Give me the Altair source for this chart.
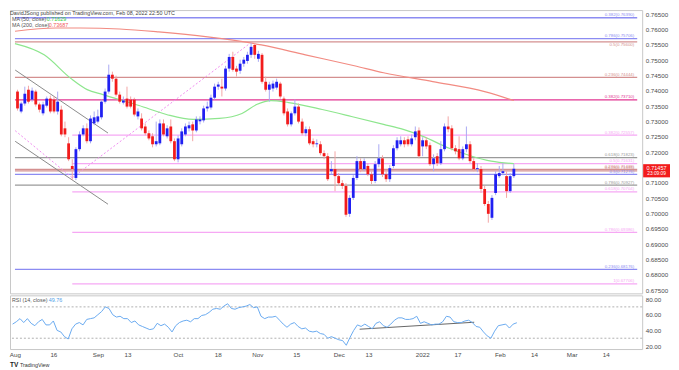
import json
import altair as alt
import pandas as pd

# ---------------- data ----------------
OPEN = [.7398,.7333,.7359,.7404,.7372,.7398,.7356,.7327,.7352,.7375,
        .7372,.7333,.7339,.7278,.7229,.7155,.7116,.7210,.7258,.7278,
        .7236,.7294,.7300,.7314,.7365,.7398,.7453,.7440,.7388,.7362,
        .7375,.7372,.7372,.7317,.7310,.7284,.7262,.7252,.7226,.7229,
        .7294,.7252,.7284,.7236,.7177,.7226,.7258,.7278,.7291,.7271,
        .7301,.7304,.7343,.7346,.7378,.7414,.7414,.7408,.7473,.7511,
        .7473,.7466,.7489,.7498,.7518,.7550,.7505,.7518,.7430,.7404,
        .7408,.7411,.7424,.7375,.7333,.7291,.7327,.7349,.7300,.7262,
        .7275,.7236,.7226,.7226,.7197,.7187,.7138,.7145,.7122,.7099,
        .7090,.6999,.7051,.7116,.7171,.7145,.7155,.7128,.7106,.7161,
        .7180,.7128,.7112,.7155,.7213,.7226,.7239,.7242,.7226,.7249,
        .7271,.7219,.7239,.7223,.7161,.7187,.7164,.7210,.7284,.7278,
        .7213,.7210,.7180,.7210,.7226,.7171,.7145,.7145,.7080,.7031,
        .6986,.7067,.7122,.7132,.7122,.7073,.7122]
HIGH = [.7404,.7365,.7414,.7417,.7411,.7404,.7362,.7365,.7382,.7385,
        .7382,.7398,.7352,.7300,.7249,.7177,.7216,.7268,.7288,.7294,
        .7320,.7333,.7339,.7372,.7408,.7486,.7463,.7450,.7398,.7382,
        .7414,.7382,.7378,.7343,.7327,.7294,.7271,.7262,.7300,.7307,
        .7307,.7288,.7307,.7245,.7255,.7278,.7294,.7300,.7300,.7317,
        .7317,.7352,.7365,.7388,.7424,.7430,.7440,.7482,.7521,.7528,
        .7482,.7502,.7511,.7528,.7557,.7557,.7531,.7524,.7447,.7430,
        .7434,.7440,.7430,.7382,.7343,.7333,.7372,.7359,.7310,.7284,
        .7284,.7245,.7242,.7236,.7206,.7197,.7171,.7203,.7132,.7109,
        .7099,.7060,.7125,.7187,.7180,.7180,.7164,.7138,.7171,.7226,
        .7190,.7138,.7158,.7223,.7249,.7252,.7249,.7252,.7258,.7284,
        .7281,.7249,.7249,.7232,.7193,.7197,.7236,.7294,.7317,.7288,
        .7223,.7252,.7219,.7284,.7236,.7180,.7164,.7155,.7090,.7041,
        .7060,.7138,.7155,.7164,.7138,.7132,.7161]
LOW = [.7336,.7327,.7352,.7359,.7365,.7349,.7330,.7320,.7346,.7327,
       .7327,.7323,.7252,.7249,.7171,.7109,.7109,.7203,.7252,.7229,
       .7229,.7288,.7294,.7307,.7359,.7391,.7430,.7382,.7359,.7356,
       .7343,.7343,.7317,.7307,.7271,.7255,.7239,.7216,.7219,.7223,
       .7252,.7245,.7229,.7171,.7167,.7219,.7252,.7268,.7236,.7265,
       .7291,.7297,.7333,.7339,.7372,.7404,.7382,.7401,.7463,.7463,
       .7447,.7456,.7479,.7489,.7508,.7505,.7495,.7424,.7398,.7365,
       .7398,.7404,.7375,.7320,.7284,.7284,.7320,.7294,.7255,.7252,
       .7223,.7216,.7216,.7190,.7177,.7106,.7128,.7073,.7090,.7080,
       .6989,.6989,.7044,.7109,.7135,.7138,.7122,.7096,.7099,.7151,
       .7119,.7103,.7103,.7148,.7206,.7219,.7216,.7219,.7219,.7239,
       .7180,.7187,.7210,.7155,.7138,.7155,.7158,.7203,.7265,.7206,
       .7193,.7174,.7174,.7200,.7164,.7138,.7135,.7067,.7025,.6970,
       .6979,.7060,.7116,.7125,.7051,.7067,.7116]
CLOSE = [.7343,.7359,.7391,.7365,.7401,.7356,.7339,.7356,.7375,.7333,
         .7333,.7365,.7258,.7258,.7177,.7145,.7210,.7258,.7278,.7236,
         .7310,.7314,.7317,.7365,.7398,.7453,.7440,.7388,.7365,.7369,
         .7349,.7349,.7323,.7333,.7278,.7262,.7245,.7226,.7236,.7294,
         .7258,.7278,.7236,.7177,.7245,.7268,.7284,.7288,.7271,.7307,
         .7307,.7343,.7349,.7378,.7414,.7421,.7408,.7473,.7511,.7469,
         .7463,.7489,.7502,.7518,.7544,.7518,.7521,.7430,.7404,.7421,
         .7424,.7430,.7382,.7327,.7291,.7327,.7349,.7300,.7262,.7275,
         .7229,.7226,.7229,.7197,.7187,.7112,.7145,.7122,.7099,.7090,
         .6996,.7051,.7116,.7171,.7145,.7171,.7128,.7106,.7161,.7180,
         .7128,.7112,.7148,.7213,.7239,.7239,.7226,.7226,.7245,.7268,
         .7187,.7239,.7219,.7161,.7180,.7164,.7210,.7284,.7275,.7213,
         .7203,.7180,.7210,.7226,.7171,.7145,.7148,.7080,.7031,.6999,
         .7051,.7128,.7132,.7138,.7073,.7122,.7146]
RSI = [48, 51, 55, 50, 55, 49, 46, 51, 54, 47,
       47, 52, 40, 38, 32, 29, 42, 48, 50, 47,
       54, 55, 56, 60, 64, 70, 68, 60, 57, 58,
       55, 55, 50, 52, 47, 45, 43, 41, 42, 49,
       46, 48, 44, 38, 46, 50, 52, 53, 51, 55,
       55, 59, 60, 63, 67, 68, 67, 71, 74, 68,
       67, 69, 70, 71, 73, 69, 70, 58, 55, 57,
       57, 58, 53, 48, 44, 48, 50, 45, 42, 43,
       39, 38, 39, 36, 35, 30, 32, 30, 28, 27,
       21, 31, 40, 47, 45, 48, 45, 42, 49, 51,
       46, 44, 48, 53, 56, 56, 54, 54, 55, 58,
       49, 51, 49, 47, 48, 48, 51, 58, 57, 51,
       50, 50, 52, 53, 50, 45, 44, 38, 33, 30,
       39, 46, 47, 48, 43, 48, 49.76]

MA50_I = [-0.7, 7.3, 14.6, 19.1, 23.4, 33.3, 40.8, 48.1, 55.3, 61.5, 65.5, 69.5,
          74.3, 83.5, 91.5, 100.3, 105.7, 111.1, 118.3, 124.5, 129.8, 136]
MA50_V = [0.75546, 0.75179, 0.74410, 0.74043, 0.73881, 0.73524, 0.73232, 0.73070,
          0.73102, 0.73265, 0.73557, 0.73686, 0.73621, 0.73394, 0.73167, 0.72908,
          0.72745, 0.72518, 0.72129, 0.71869, 0.71707, 0.71629]
MA200_I = [-0.7, 10.5, 17.2, 28.0, 38.7, 52.1, 66.8, 78.9, 92.3, 100.3, 113.8, 128.0, 136]
MA200_V = [0.75948, 0.76055, 0.76055, 0.76023, 0.75926, 0.75763, 0.75504, 0.75179,
           0.74822, 0.74595, 0.74303, 0.73979, 0.73687]

FIB_LEVEL = [0.76390, 0.75706, 0.75600, 0.74444, 0.73710, 0.72557, 0.71823, 0.71631,
             0.71438, 0.71393, 0.71276, 0.70927, 0.70704, 0.69386, 0.68176, 0.67706]
FIB_TEXT = ["0.382(0.76390)", "0.786(0.75706)", "0.5(0.75600)", "0.236(0.74444)",
            "0.382(0.73710)", "0.382(0.72557)", "0.618(0.71823)", "0.5(0.71631)",
            "0.236(0.71438)", "0.618(0.71393)", "0.5(0.71276)", "0.786(0.70927)",
            "0.618(0.70704)", "0.786(0.69386)", "0.236(0.68176)", "1(0.67706)"]
FIB_GROUP = ["blue", "blue", "red", "red", "magenta", "pink", "gray", "pink",
             "red", "red", "blue", "gray", "pink", "pink", "blue", "pink"]
FIB_START = [-0.7, -0.7, -0.7, -0.7, -0.7, 15, -0.7, 15,
             -0.7, -0.7, -0.7, -0.7, 15, 15, -0.7, 15]
FIB_LABEL_BELOW = [False, False, True, False, False, False, False, False,
                   False, False, False, False, False, False, False, False]

TREND_ID = ["up", "up", "lo", "lo", "d1", "d1", "d2", "d2"]
TREND_I = [-0.64, 24.8, -0.64, 24.8, -0.64, 15.0, 15.0, 63.6]
TREND_V = [0.74683, 0.72626, 0.72357, 0.70303, 0.72704, 0.71166, 0.71166, 0.75546]
TREND_KIND = ["solid", "solid", "solid", "solid", "dot", "dot", "dot", "dot"]

RSI_TREND_I = [93.6, 124.5]
RSI_TREND_V = [41.5, 50.4]

# 0.715 label sits behind the last-price box in the reference
PRICE_TICKS = [0.675, 0.680, 0.685, 0.690, 0.695, 0.700, 0.705, 0.710, 0.720,
               0.725, 0.730, 0.735, 0.740, 0.745, 0.750, 0.755, 0.760, 0.765]
RSI_TICKS = [20, 40, 60, 80]
TIME_POS = [0.6, 11, 23, 31, 44.6, 55.3, 66, 76.5, 88, 96, 110.5, 120, 131.4, 140.6, 150.8, 160]
TIME_TEXT = ["Aug", "16", "Sep", "13", "Oct", "18", "Nov", "15", "Dec", "13",
             "2022", "17", "Feb", "14", "Mar", "14"]

HEADER = "DavidJSong published on TradingView.com, Feb 08, 2022 22:50 UTC"
LAST_PRICE = "0.71457"
LAST_TIME = "23:09:09"

# ---------------- chart ----------------
W, H1, H2 = 636, 285, 54
XDOM = [-0.7, 169.8]
FONT = "Liberation Sans"

xs = alt.Scale(domain=XDOM, nice=False, zero=False)
ys = alt.Scale(domain=[0.67393, 0.76640], nice=False, zero=False)
yax = alt.Axis(orient="right", values=PRICE_TICKS, format=".5f", title=None,
               labelFontSize=6.3, labelColor="#4a4a4a", ticks=False, domain=False,
               grid=False, labelPadding=3)

cdf = pd.DataFrame({"i": list(range(len(CLOSE))), "open": OPEN, "high": HIGH,
                    "low": LOW, "close": CLOSE})

up = "datum.close >= datum.open"
wicks = alt.Chart(cdf).mark_rule(strokeWidth=1).encode(
    x=alt.X("i:Q", scale=xs, axis=None),
    y=alt.Y("low:Q", scale=ys, axis=yax), y2="high:Q",
    color=alt.condition(up, alt.value("#a9a9f3"), alt.value("#f3a5a5")))
bodies = alt.Chart(cdf).mark_bar(size=2.8).encode(
    x=alt.X("i:Q", scale=xs, axis=None),
    y=alt.Y("open:Q", scale=ys, axis=yax), y2="close:Q",
    color=alt.condition(up, alt.value("#2020f2"), alt.value("#f21c1c")))

fdf = pd.DataFrame({"start": FIB_START, "end": [XDOM[1]] * len(FIB_LEVEL),
                    "level": FIB_LEVEL, "text": FIB_TEXT, "grp": FIB_GROUP,
                    "below": FIB_LABEL_BELOW})
groups = ["blue", "red", "magenta", "pink", "gray"]
line_cols = ["#8c8cf2", "#d49090", "#e23592", "#f6a8f4", "#9a9a9a"]
text_cols = ["#5b5be6", "#c26a6a", "#cc1f80", "#e45ae0", "#555555"]
fib_lines = alt.Chart(fdf).mark_rule(strokeWidth=1.3, clip=True).encode(
    x=alt.X("start:Q", scale=xs, axis=None), x2="end:Q",
    y=alt.Y("level:Q", scale=ys, axis=yax),
    color=alt.Color("grp:N", scale=alt.Scale(domain=groups, range=line_cols), legend=None))

def fib_labels(df, baseline, dy):
    return alt.Chart(df).mark_text(align="right", baseline=baseline, dx=-3, dy=dy,
                                   fontSize=4.4, font=FONT).encode(
        x=alt.X("end:Q", scale=xs, axis=None),
        y=alt.Y("level:Q", scale=ys, axis=yax),
        text="text:N",
        color=alt.Color("grp:N", scale=alt.Scale(domain=groups, range=text_cols), legend=None))

fib_text_above = fib_labels(fdf[~fdf.below], "bottom", -0.5)
fib_text_below = fib_labels(fdf[fdf.below], "top", 1)

tdf = pd.DataFrame({"id": TREND_ID, "i": TREND_I, "v": TREND_V, "kind": TREND_KIND})
trend_solid = alt.Chart(tdf[tdf.kind == "solid"]).mark_line(
    color="#8a8a8a", strokeWidth=1, clip=True).encode(
    x=alt.X("i:Q", scale=xs, axis=None), y=alt.Y("v:Q", scale=ys, axis=yax), detail="id:N")
trend_dot = alt.Chart(tdf[tdf.kind == "dot"]).mark_line(
    color="#f08ef0", strokeWidth=1, strokeDash=[2, 2], clip=True).encode(
    x=alt.X("i:Q", scale=xs, axis=None), y=alt.Y("v:Q", scale=ys, axis=yax), detail="id:N")

ma50 = alt.Chart(pd.DataFrame({"i": MA50_I, "v": MA50_V})).mark_line(
    color="#8ee68e", strokeWidth=1.2, interpolate="monotone", clip=True).encode(
    x=alt.X("i:Q", scale=xs, axis=None), y=alt.Y("v:Q", scale=ys, axis=yax))
ma200 = alt.Chart(pd.DataFrame({"i": MA200_I, "v": MA200_V})).mark_line(
    color="#f28b82", strokeWidth=1.2, interpolate="monotone", clip=True).encode(
    x=alt.X("i:Q", scale=xs, axis=None), y=alt.Y("v:Q", scale=ys, axis=yax))

def label(txt, x, y, color, size=5.4, weight="normal"):
    return alt.Chart(pd.DataFrame({"t": [txt]})).mark_text(
        align="left", baseline="middle", fontSize=size, font=FONT, color=color,
        fontWeight=weight).encode(x=alt.value(x), y=alt.value(y), text="t:N")

header = label(HEADER, 0, 3, "#444444", 5.4)
leg1 = label("MA (50, close)", 2, 9, "#555555")
leg1v = label("0.71629", 37, 9, "#3ccf3c")
leg2 = label("MA (200, close)", 2, 15, "#555555")
leg2v = label("0.73687", 39, 15, "#f25a5a")

box = alt.Chart(pd.DataFrame({"top": [0.7161], "bot": [0.7118]})).mark_rect(color="#f21c1c").encode(
    x=alt.value(W + 1), x2=alt.value(W + 28),
    y=alt.Y("top:Q", scale=ys, axis=yax), y2="bot:Q")
box_t = alt.Chart(pd.DataFrame({"t": [LAST_PRICE, LAST_TIME], "p": [0.71485, 0.71285],
                                "s": [5.6, 4.8]})).mark_text(
    align="center", baseline="middle", color="white", font=FONT).encode(
    x=alt.value(W + 14.5), y=alt.Y("p:Q", scale=ys, axis=yax), text="t:N",
    size=alt.Size("s:Q", scale=None, legend=None))

price = alt.layer(fib_lines, fib_text_above, fib_text_below, trend_solid, trend_dot,
                  ma200, ma50, wicks, bodies, box, box_t, header, leg1, leg1v, leg2, leg2v
                  ).properties(width=W, height=H1)

# RSI pane
rs = alt.Scale(domain=[16.2, 84.7], nice=False, zero=False)
rax = alt.Axis(orient="right", values=RSI_TICKS, format=".2f", title=None,
               labelFontSize=6.3, labelColor="#4a4a4a", ticks=False, domain=False,
               grid=False, labelPadding=3)
label_expr = f"{json.dumps(TIME_TEXT)}[indexof({json.dumps(TIME_POS)}, datum.value)]"
xax = alt.Axis(values=TIME_POS, labelExpr=label_expr, title=None, labelFontSize=6.3,
               labelColor="#4a4a4a", ticks=False, domain=False, grid=False,
               labelPadding=3, labelFlush=False)

rdf = pd.DataFrame({"i": list(range(len(RSI))), "rsi": RSI})
rsi_line = alt.Chart(rdf).mark_line(color="#6aaaf0", strokeWidth=1).encode(
    x=alt.X("i:Q", scale=xs, axis=xax), y=alt.Y("rsi:Q", scale=rs, axis=rax))
bands = alt.Chart(pd.DataFrame({"b": [70, 30]})).mark_rule(
    color="#b0b0b0", strokeDash=[2, 2], strokeWidth=1).encode(
    y=alt.Y("b:Q", scale=rs, axis=rax))
rsi_tr = alt.Chart(pd.DataFrame({"i": RSI_TREND_I, "v": RSI_TREND_V})).mark_line(
    color="#666666", strokeWidth=1).encode(
    x=alt.X("i:Q", scale=xs, axis=xax), y=alt.Y("v:Q", scale=rs, axis=rax))
rleg = label("RSI (14, close)", 2, 5, "#555555")
rlegv = label("49.76", 39, 5, "#4f9ee8")
logo = label("TV", 0, H2 + 16, "#222222", 6.5, "bold")
foot = label("TradingView", 10, H2 + 16, "#333333", 5.4)

rsi = alt.layer(bands, rsi_tr, rsi_line, rleg, rlegv, logo, foot).properties(width=W, height=H2)

chart = alt.vconcat(price, rsi, spacing=0).properties(
    padding={"left": 0, "top": 0, "right": 0, "bottom": 0}, background="white"
).configure(font=FONT).configure_view(stroke="#c8c8c8", strokeWidth=1)

chart.save("out.html", embed_options={"renderer": "svg", "actions": False})
